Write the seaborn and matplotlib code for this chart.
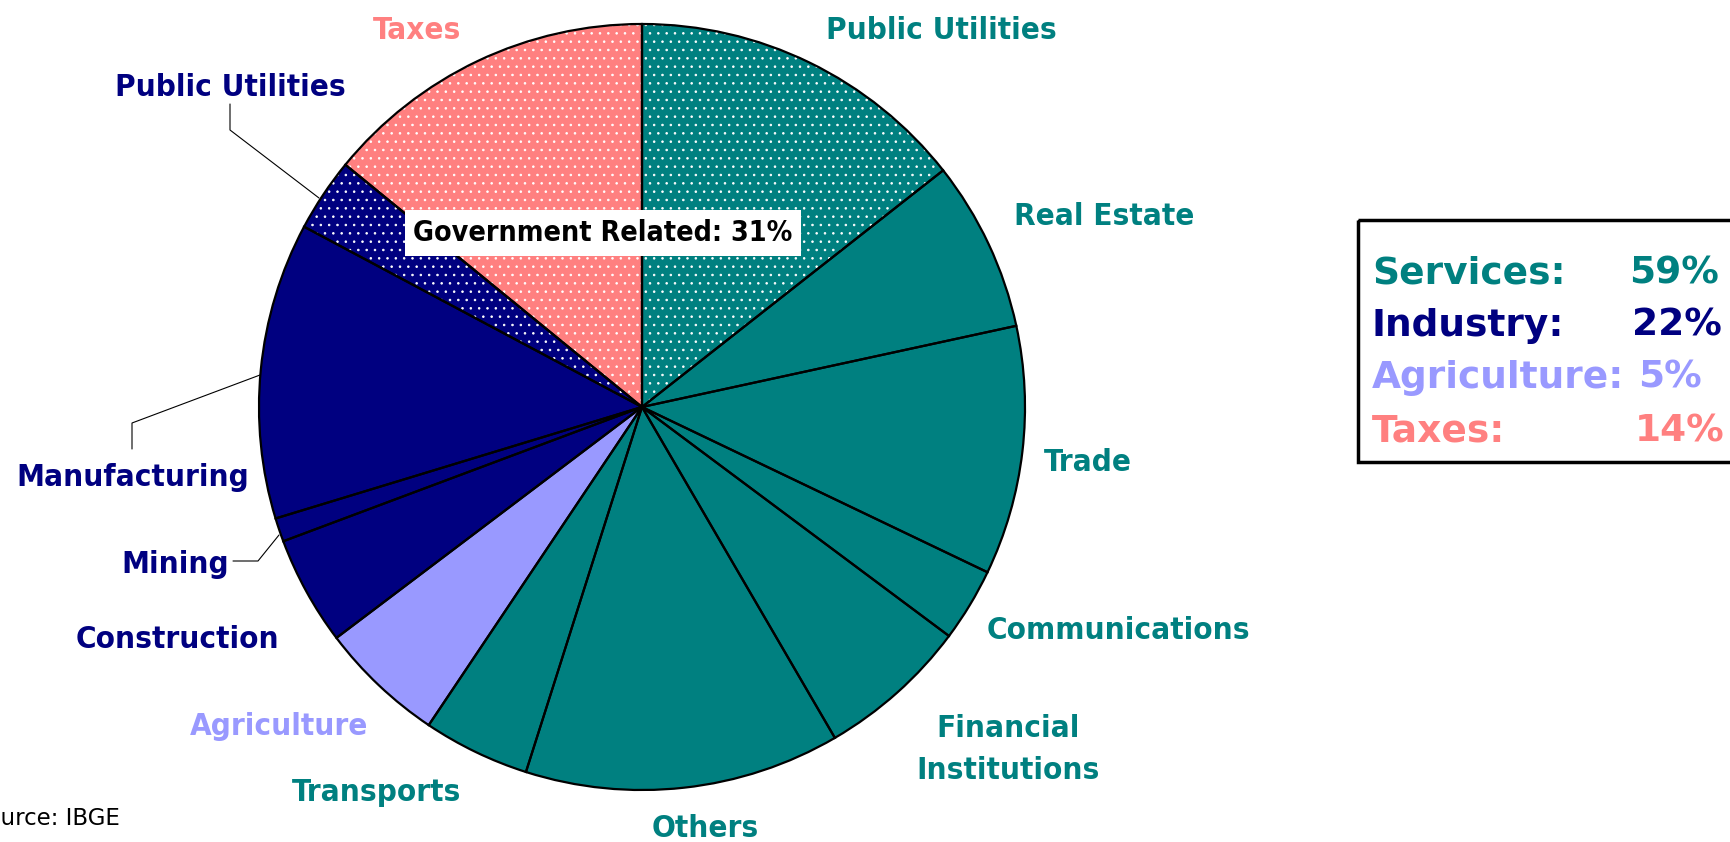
import matplotlib
matplotlib.use("Agg")
import matplotlib.pyplot as plt
from matplotlib import font_manager
from matplotlib.patches import Rectangle
import seaborn as sns

# data (share of GDP, %)
sectors = ["Public Utilities", "Real Estate", "Trade", "Communications",
           "Financial\nInstitutions", "Others", "Transports", "Agriculture",
           "Construction", "Mining", "Manufacturing", "Public Utilities", "Taxes"]
shares = [14.4, 7.2, 10.5, 3.1, 6.4, 13.3, 4.5, 5.3, 4.6, 1.0, 12.5, 3.1, 14.1]
groups = ["Services"] * 7 + ["Agriculture"] + ["Industry"] * 4 + ["Taxes"]
gov_related = [True] + [False] * 10 + [True, True]

group_names = ["Services:", "Industry:", "Agriculture:", "Taxes:"]
group_shares = ["59%", "22%", "5%", "14%"]
gov_text = "Government Related: 31%"
source_text = "Source: IBGE"

palette = sns.color_palette(["#008080", "#000080", "#9999FF", "#FF8080"])
group_color = dict(zip(["Services", "Industry", "Agriculture", "Taxes"], palette))

# layout (pixels, measured from top-left)
W, H = 1731, 842
center = (642, 407)
radius = 383
label_pos = [(941, 39), (1104, 225), (1088, 471), (1118, 639), (1008, 737),
             (705, 837), (377, 801), (279, 735), (177, 648), (175, 573),
             (133, 486), (230, 96), (417, 39)]

sns.set_theme(style="white")
plt.rcParams["font.family"] = ["DejaVu Sans"]
plt.rcParams["hatch.linewidth"] = 0.6

fp = font_manager.FontProperties(family="DejaVu Sans", weight="bold", stretch="condensed")
condensed = "Condensed" in font_manager.findfont(fp)
lab_size = 22.5 if condensed else 20.2
lab_stretch = "condensed" if condensed else "normal"

fig = plt.figure(figsize=(W / 100, H / 100), dpi=100)
ax = fig.add_axes([0, 0, 1, 1])

colors = [group_color[g] for g in groups]
# y axis is flipped below, so -90 / counterclock draws clockwise from 12 o'clock
wedges, _ = ax.pie(shares, colors=colors, startangle=-90, counterclock=True,
                   center=center, radius=radius,
                   wedgeprops=dict(edgecolor="white", linewidth=0))
for w, dotted in zip(wedges, gov_related):
    if dotted:
        w.set_hatch("..")
ax.pie(shares, colors=["none"] * len(shares), startangle=-90, counterclock=True,
       center=center, radius=radius,
       wedgeprops=dict(edgecolor="black", linewidth=1.6))

ax.set_xlim(0, W)
ax.set_ylim(H, 0)
ax.set_aspect("equal")
ax.axis("off")

for name, g, (x, y) in zip(sectors, groups, label_pos):
    if "\n" in name:
        first, second = name.split("\n")
        ax.text(x, y, first, ha="center", va="baseline", color=group_color[g],
                fontsize=lab_size, fontweight="bold", fontstretch=lab_stretch)
        ax.text(x, y + 42, second, ha="center", va="baseline", color=group_color[g],
                fontsize=lab_size, fontweight="bold", fontstretch=lab_stretch)
    else:
        ax.text(x, y, name, ha="center", va="baseline", color=group_color[g],
                fontsize=lab_size, fontweight="bold", fontstretch=lab_stretch)

# leader lines
ax.plot([230, 230, 319], [104, 130, 198], color="black", lw=0.8)
ax.plot([132, 132, 260], [449, 423, 375], color="black", lw=0.8)
ax.plot([233, 258, 279], [561, 561, 535], color="black", lw=0.8)

ax.text(603, 241, gov_text, ha="center", va="baseline", color="black",
        fontsize=lab_size - 2.0, fontweight="bold", fontstretch=lab_stretch,
        bbox=dict(boxstyle="square,pad=0.3", facecolor="white", edgecolor="none"))

# summary box
ax.add_patch(Rectangle((1358, 220), 500, 242, fill=False, edgecolor="black",
                       lw=2.5, clip_on=False))
rows_y = [283, 336, 388, 441]
pct_x = [1629, 1632, 1638, 1635]
for name, pct, col, y, px in zip(group_names, group_shares, palette, rows_y, pct_x):
    ax.text(1372, y, name, ha="left", va="baseline", color=col,
            fontsize=27, fontweight="heavy")
    ax.text(px, y, pct, ha="left", va="baseline", color=col,
            fontsize=27, fontweight="heavy", clip_on=False)

# source note sits partly off the left edge, as in the original slide
ax.text(120, 825, source_text, ha="right", va="baseline", color="black",
        fontsize=16.5, clip_on=False)

fig.savefig("out.png", dpi=100)
